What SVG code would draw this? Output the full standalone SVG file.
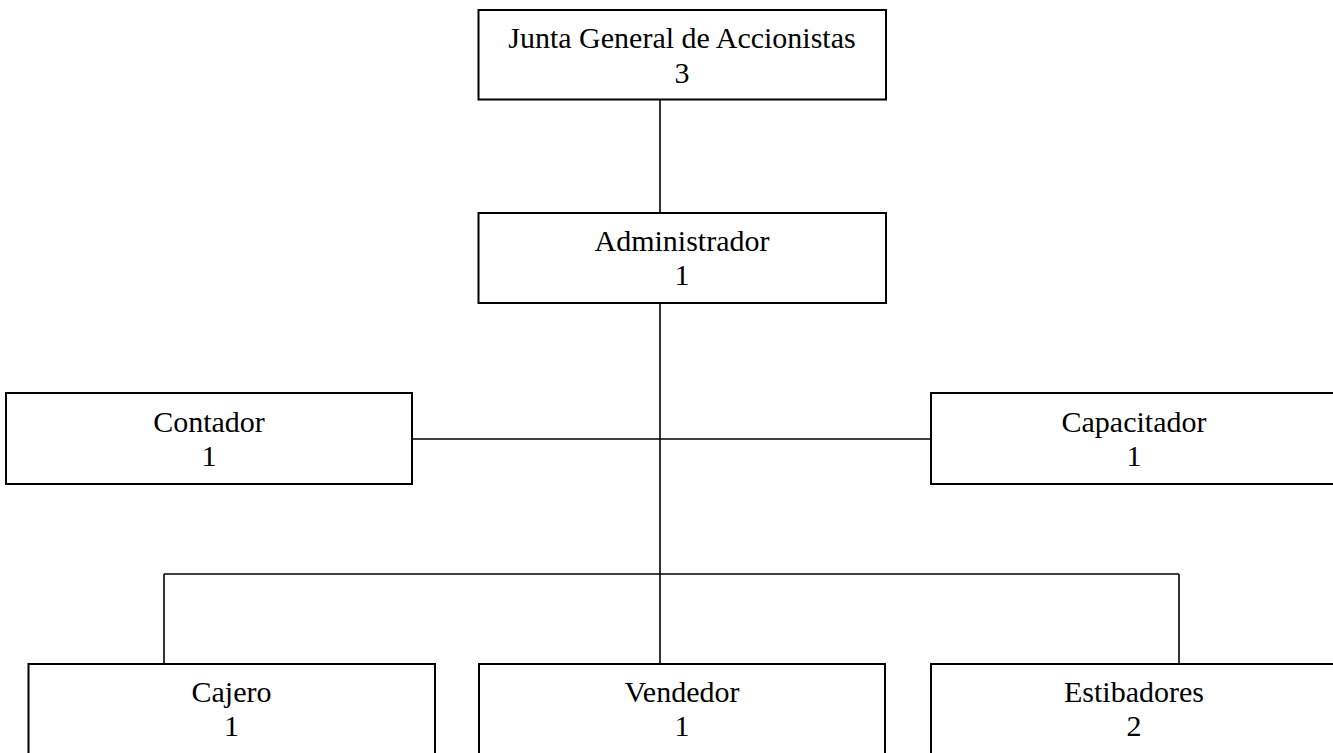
<svg xmlns="http://www.w3.org/2000/svg" width="1333" height="753" viewBox="0 0 1333 753">
<style>
.box{fill:#fff;stroke:#000;stroke-width:2}
.lbl{font-family:"Liberation Serif","Times New Roman",serif;font-size:30px;fill:#000;text-anchor:middle}
.conn line{stroke:#000;stroke-width:1.6}
</style>
<rect width="1333" height="753" fill="#fff"/>
<g id="connectors" class="conn">
<line x1="660" y1="99.5" x2="660" y2="213"/>
<line x1="660" y1="303" x2="660" y2="664"/>
<line x1="412" y1="439" x2="931" y2="439"/>
<line x1="164" y1="574" x2="1179" y2="574"/>
<line x1="164" y1="574" x2="164" y2="664"/>
<line x1="1179" y1="574" x2="1179" y2="664"/>
</g>
<g id="junta">
<rect class="box" x="478.5" y="10" width="407.5" height="89.5"/>
<text class="lbl" x="682" y="48">Junta General de Accionistas</text>
<text class="lbl" x="682" y="82.5">3</text>
</g>
<g id="administrador">
<rect class="box" x="478.5" y="213" width="407.5" height="90"/>
<text class="lbl" x="682" y="251">Administrador</text>
<text class="lbl" x="682" y="285">1</text>
</g>
<g id="contador">
<rect class="box" x="6" y="393" width="406" height="91"/>
<text class="lbl" x="209" y="431.5">Contador</text>
<text class="lbl" x="209" y="465.5">1</text>
</g>
<g id="capacitador">
<rect class="box" x="931" y="393" width="406" height="91"/>
<text class="lbl" x="1134" y="431.5">Capacitador</text>
<text class="lbl" x="1134" y="465.5">1</text>
</g>
<g id="cajero">
<rect class="box" x="28.5" y="664" width="406.5" height="91"/>
<text class="lbl" x="231.5" y="702">Cajero</text>
<text class="lbl" x="231.5" y="736">1</text>
</g>
<g id="vendedor">
<rect class="box" x="479" y="664" width="406" height="91"/>
<text class="lbl" x="682" y="702">Vendedor</text>
<text class="lbl" x="682" y="736">1</text>
</g>
<g id="estibadores">
<rect class="box" x="931" y="664" width="406" height="91"/>
<text class="lbl" x="1134" y="702">Estibadores</text>
<text class="lbl" x="1134" y="736">2</text>
</g>
</svg>
